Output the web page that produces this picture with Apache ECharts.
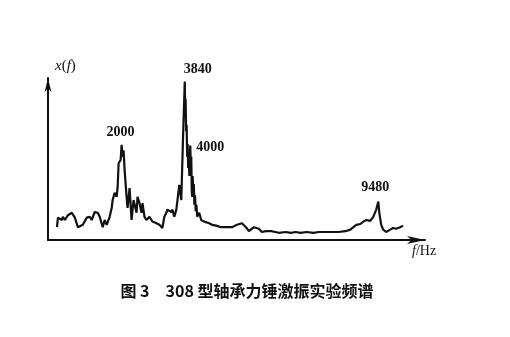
<!DOCTYPE html>
<html>
<head>
<meta charset="utf-8">
<script src="https://cdn.jsdelivr.net/npm/echarts@6/dist/echarts.min.js"></script>
<style>
  html, body { margin: 0; padding: 0; background: #fff; }
  #chart { width: 510px; height: 337px; }
</style>
</head>
<body>
<div id="chart"></div>
<script>
// Frequency (Hz)
const freqs = [116, 145, 261, 290, 348, 435, 551, 638, 725, 783, 870, 986, 1072, 1130, 1217, 1304, 1362, 1420, 1449, 1507,
  1565, 1652, 1710, 1739, 1797, 1855, 1884, 1913, 1971, 2000, 2030, 2058, 2087, 2145, 2174, 2232, 2261, 2290, 2348, 2435, 2464,
  2522, 2580, 2609, 2667, 2725, 2812, 2899, 3014, 3101, 3188, 3246, 3304, 3333, 3449, 3478, 3536, 3594, 3623, 3681, 3739,
  3790, 3840, 3855, 3865, 3880, 3895, 3910, 3925, 3940, 3955, 3975, 4000, 4015, 4030, 4045, 4058, 4070, 4090, 4105, 4120,
  4140, 4160, 4180, 4203, 4261, 4319, 4406, 4551, 4638, 4754, 4899,
  5043, 5217, 5275, 5362, 5507, 5623, 5710, 5855, 6000, 6087, 6203, 6377, 6580, 6783, 6928, 7072, 7217, 7391, 7594, 7739,
  8029, 8319, 8522, 8667, 8754, 8841, 8957, 9043, 9130, 9246, 9333, 9391, 9420, 9480, 9510, 9565, 9623, 9710, 9826, 9913,
  10000, 10116, 10203];
// Spectrum amplitude x(f), relative units
const amps = [8, 14, 12.5, 14.5, 12.5, 15.5, 17, 14, 8, 7, 9.5, 14, 14.5, 12.5, 17.5, 17, 14.5, 15.5, 8, 12.5,
  9.5, 14.5, 20, 25, 29.5, 27, 33, 48, 50, 59.5, 52, 56, 44, 27, 20, 32.5, 23, 12.5, 25, 17, 27,
  23, 17, 23, 14.5, 12.5, 14.5, 11.5, 10.5, 9.5, 7.5, 14.5, 17, 19, 17.5, 19, 14.5, 19, 24, 34.5, 25,
  64, 99, 80, 88, 68, 72, 52, 60, 45, 50, 40, 59, 48, 52, 30, 27, 40, 30, 35, 22,
  28, 18, 22, 14.5, 17, 12.5, 11.5, 10.5, 9.5, 9, 8,
  8, 8, 7.5, 9.5, 10.5, 8, 5.5, 8, 7, 5, 5.5, 5.5, 4.5, 5, 4.5, 5, 4.5, 5, 4.5, 5,
  5, 5, 5.5, 6.5, 8, 9.5, 10, 11.5, 12.5, 12, 14.5, 15.5, 19, 24, 17, 9.5, 6.5, 5, 6.5, 7.5,
  7, 8, 9];
// Annotated peaks
const peakFreqs = [2000, 3840, 4000, 9480];
const peakAmps = [59.5, 99, 59, 24];
const peakLabels = ['2000', '3840', '4000', '9480'];
const peakOffsets = [[-1, -12], [13, -12], [20, 2], [-3, -14]];

const xAxisName = 'f/Hz';
const yAxisName = 'x(f)';
const caption = '图 3\u3000308 型轴承力锤激振实验频谱';

const chart = echarts.init(document.getElementById('chart'), null, { renderer: 'canvas' });

const seriesData = freqs.map((f, i) => [f, amps[i]]);
const markData = peakFreqs.map((f, i) => ({
  name: peakLabels[i],
  coord: [f, peakAmps[i]],
  label: { offset: peakOffsets[i] }
}));

chart.setOption({
  backgroundColor: '#ffffff',
  animation: false,
  grid: { left: 48, right: 85, top: 78, bottom: 97, containLabel: false },
  xAxis: {
    type: 'value',
    min: -145,
    max: 10841,
    axisLine: {
      show: true, onZero: false,
      lineStyle: { color: '#111', width: 2 },
      symbol: ['none', 'arrow'],
      symbolSize: [6, 18]
    },
    axisTick: { show: false },
    axisLabel: { show: false },
    splitLine: { show: false }
  },
  yAxis: {
    type: 'value',
    min: 0,
    max: 101.25,
    axisLine: {
      show: true, onZero: false,
      lineStyle: { color: '#111', width: 2 },
      symbol: ['none', 'arrow'],
      symbolSize: [5, 14]
    },
    axisTick: { show: false },
    axisLabel: { show: false },
    splitLine: { show: false }
  },
  series: [{
    type: 'line',
    data: seriesData,
    showSymbol: false,
    symbol: 'none',
    lineStyle: { color: '#111', width: 2.2 },
    markPoint: {
      symbol: 'circle',
      symbolSize: 0,
      itemStyle: { color: 'transparent' },
      label: {
        show: true,
        position: 'inside',
        formatter: '{b}',
        color: '#111',
        fontFamily: 'Liberation Serif',
        fontWeight: 'bold',
        fontSize: 14
      },
      data: markData
    }
  }],
  graphic: [
    {
      type: 'text', left: 55, top: 59,
      style: {
        text: '{i|x}{n|(}{i|f}{n|)}',
        rich: {
          i: { fontFamily: 'Liberation Serif', fontStyle: 'italic', fontSize: 15, fill: '#111' },
          n: { fontFamily: 'Liberation Serif', fontSize: 15, fill: '#111' }
        }
      }
    },
    {
      type: 'text', left: 412, top: 244,
      style: {
        text: '{i|f}{n|/Hz}',
        rich: {
          i: { fontFamily: 'Liberation Serif', fontStyle: 'italic', fontSize: 14, fill: '#111' },
          n: { fontFamily: 'Liberation Serif', fontSize: 14, fill: '#111' }
        }
      }
    },
    {
      type: 'text', x: 247, y: 291,
      style: {
        text: caption,
        fill: '#111',
        font: 'bold 16px "Noto Sans CJK SC"',
        textAlign: 'center',
        textVerticalAlign: 'middle'
      }
    }
  ]
});
</script>
</body>
</html>
